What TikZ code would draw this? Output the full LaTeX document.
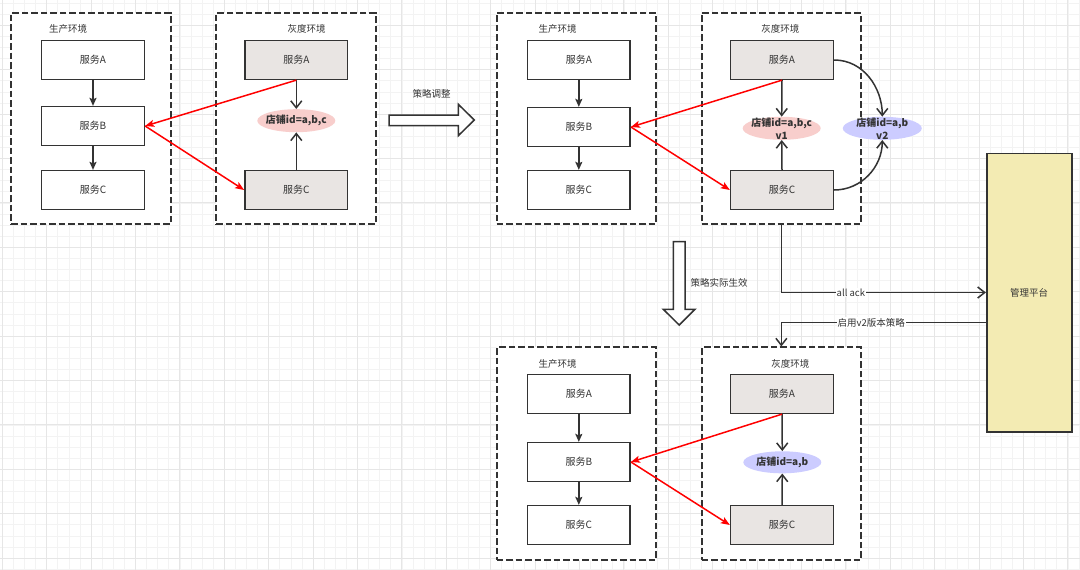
\documentclass[tikz,border=0pt]{standalone}
\usepackage{fontspec}
\setmainfont{Noto Sans CJK SC}
\usetikzlibrary{arrows.meta,calc,shapes.geometric}
\definecolor{ink}{HTML}{333333}
\definecolor{grayfill}{HTML}{E9E5E3}
\definecolor{pinkfill}{HTML}{F8CECC}
\definecolor{bluefill}{HTML}{CCCCFF}
\definecolor{mgmtfill}{HTML}{F3EBB3}
\definecolor{gminor}{HTML}{F3F3F3}
\definecolor{gmajor}{HTML}{E6E6E6}
\tikzset{
  envbox/.style={draw=ink, line width=1.7pt, dash pattern=on 6.5pt off 3pt, fill=white},
  envtitle/.style={font=\fontsize{9.5}{10}\selectfont, text=ink, inner sep=0pt},
  svc/.style={draw=ink, line width=1.6pt, fill=white, rectangle, minimum width=102.7pt, minimum height=38.7pt, inner sep=0pt, font=\fontsize{10}{11}\selectfont, text=ink},
  graysvc/.style={svc, fill=grayfill},
  pinkell/.style={ellipse, fill=pinkfill, minimum width=78pt, minimum height=23pt, inner sep=0pt},
  blueell/.style={ellipse, fill=bluefill, minimum width=78pt, minimum height=23pt, inner sep=0pt},
  elltext/.style={font=\bfseries\fontsize{10}{13}\selectfont, text=ink, align=center, inner sep=0pt},
  blackarrow/.style={draw=ink, line width=1.5pt, -{Stealth[length=8pt,width=7pt,inset=1.5pt]}},
  openarrow/.style={draw=ink, line width=1.5pt, -{Straight Barb[length=7pt,width=11pt,line width=1.5pt]}},
  redarrow/.style={draw=red, line width=1.5pt, -{Stealth[length=9pt,width=7pt,inset=2pt]}},
  hollow/.style={draw=ink, line width=1.5pt, fill=white, line join=miter},
  lbl/.style={font=\fontsize{9.5}{10}\selectfont, text=ink, inner sep=1pt},
}
\begin{document}
\begin{tikzpicture}[x=1pt,y=-1pt]
\path[use as bounding box, fill=white] (0,0) rectangle (1080,570);
% grid
\foreach \i in {0,...,97} \draw[gminor, line width=0.8pt] ({2.3+11.1*\i},0) -- ({2.3+11.1*\i},570);
\foreach \i in {0,...,51} \draw[gminor, line width=0.8pt] (0,{3.1+11.1*\i}) -- (1080,{3.1+11.1*\i});
\foreach \i in {0,...,24} \draw[gmajor, line width=0.9pt] ({2.3+44.4*\i},0) -- ({2.3+44.4*\i},570);
\foreach \i in {0,...,12} \draw[gmajor, line width=0.9pt] (0,{25.3+44.4*\i}) -- (1080,{25.3+44.4*\i});

% ===== top-left =====
\node[envbox, minimum width=159.7pt, minimum height=211pt, inner sep=0pt] (lP) at (90.85,118.5) {};
\node[envbox, minimum width=159.7pt, minimum height=211pt, inner sep=0pt] (lG) at (295.85,118.5) {};
\node[envtitle] (t1) at (68.2,29.3) {生产环境};
\node[envtitle] (t2) at (306.7,29.3) {灰度环境};
\node[svc] (lA) at (93,60) {服务A};
\node[svc] (lB) at (93,126) {服务B};
\node[svc] (lC) at (93,190) {服务C};
\node[graysvc] (lgA) at (296.3,60) {服务A};
\node[graysvc] (lgC) at (296.3,190) {服务C};
\node[pinkell] (le) at (296.3,120.7) {};
\node[elltext] (let) at (le.center) {店铺id=a,b,c};
\draw[blackarrow] (lA.south) -- (lB.north);
\draw[blackarrow] (lB.south) -- (lC.north);
\draw[openarrow] (lgA.south) -- (le.north);
\draw[openarrow] (lgC.north) -- (le.south);
\draw[redarrow] (lgA.south) -- (lB.east);
\draw[redarrow] (lB.east) -- (lgC.west);

% hollow right arrow
\draw[hollow] (389,115) -- (458.3,115) -- (458.3,104.3) -- (474.3,120) -- (458.3,135.7) -- (458.3,125.7) -- (389,125.7) -- cycle;
\node[lbl] (s1) at (431.7,94.3) {策略调整};

% ===== top-right =====
\node[envbox, minimum width=159.3pt, minimum height=211pt, inner sep=0pt] (rP) at (576.35,118.5) {};
\node[envbox, minimum width=159.3pt, minimum height=211pt, inner sep=0pt] (rG) at (781.35,118.5) {};
\node[envtitle] (t3) at (557.5,29.3) {生产环境};
\node[envtitle] (t4) at (780.3,29.3) {灰度环境};
\node[svc] (rA) at (578.8,60) {服务A};
\node[svc] (rB) at (578.8,127) {服务B};
\node[svc] (rC) at (578.8,190) {服务C};
\node[graysvc] (rgA) at (782,60) {服务A};
\node[graysvc] (rgC) at (782,190) {服务C};
\node[pinkell] (v1) at (781.7,128.3) {};
\node[elltext] (v1t) at (v1.center) {店铺id=a,b,c\\v1};
\node[blueell, minimum width=79pt] (v2) at (882.3,128.3) {};
\node[elltext] (v2t) at (v2.center) {店铺id=a,b\\v2};
\draw[blackarrow] (rA.south) -- (rB.north);
\draw[blackarrow] (rB.south) -- (rC.north);
\draw[openarrow] (rgA.south) -- (v1.north);
\draw[openarrow] (rgC.north) -- (v1.south);
\draw[openarrow] (rgA.east) to[out=0,in=90] (v2.north);
\draw[openarrow] (rgC.east) to[out=0,in=-90] (v2.south);
\draw[redarrow] (rgA.south) -- (rB.east);
\draw[redarrow] (rB.east) -- (rgC.west);

% hollow down arrow
\draw[hollow] (673.3,241.7) -- (685,241.7) -- (685,309.3) -- (695,309.3) -- (679.2,325) -- (663.3,309.3) -- (673.3,309.3) -- cycle;
\node[lbl] (s2) at (719,283.3) {策略实际生效};

% ===== management =====
\node[draw=ink, line width=1.6pt, fill=mgmtfill, minimum width=85pt, minimum height=278.4pt, inner sep=0pt, font=\fontsize{9.5}{10}\selectfont, text=ink] (mgmt) at (1029.2,292.5) {管理平台};

% ===== bottom =====
\node[envbox, minimum width=159.3pt, minimum height=212.7pt, inner sep=0pt] (bP) at (576.35,453.65) {};
\node[envbox, minimum width=159.3pt, minimum height=212.7pt, inner sep=0pt] (bG) at (781.35,453.65) {};
\node[envtitle] (t5) at (557.5,364) {生产环境};
\node[envtitle] (t6) at (790.3,364) {灰度环境};
\node[svc] (bA) at (578.8,394) {服务A};
\node[svc] (bB) at (578.8,462) {服务B};
\node[svc] (bC) at (578.8,525) {服务C};
\node[graysvc] (bgA) at (782,394) {服务A};
\node[graysvc] (bgC) at (782,525) {服务C};
\node[blueell, minimum height=22pt] (be) at (782.3,462.3) {};
\node[elltext] (bet) at (be.center) {店铺id=a,b};
\draw[blackarrow] (bA.south) -- (bB.north);
\draw[blackarrow] (bB.south) -- (bC.north);
\draw[openarrow] (bgA.south) -- (be.north);
\draw[openarrow] (bgC.north) -- (be.south);
\draw[redarrow] (bgA.south) -- (bB.east);
\draw[redarrow] (bB.east) -- (bgC.west);

% ===== management connectors =====
\draw[openarrow] (rG.south) |- (mgmt.west) node[lbl, fill=white, pos=0.67] (ack) {all ack};
\draw[openarrow] ([yshift=-30.2pt]mgmt.west) -| (bG.north) node[lbl, fill=white, pos=0.28] (v2lbl) {启用v2版本策略};
\end{tikzpicture}
\end{document}
